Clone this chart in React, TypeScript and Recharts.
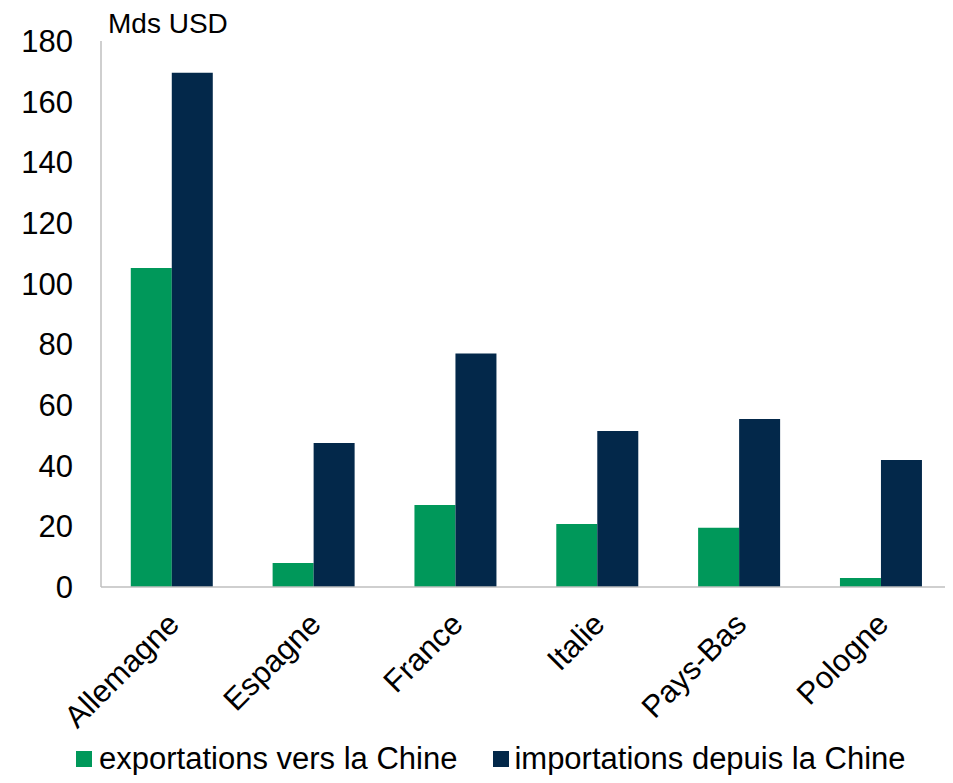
import React from "react";
import { BarChart, Bar, XAxis, YAxis, Legend } from "recharts";

const categories = ["Allemagne", "Espagne", "France", "Italie", "Pays-Bas", "Pologne"];
const exportsValues = [105.2, 7.9, 27, 20.8, 19.5, 3];
const importsValues = [169.5, 47.5, 77, 51.4, 55.4, 41.9];
const yTicks = [0, 20, 40, 60, 80, 100, 120, 140, 160, 180];
const seriesNames = ["exportations vers la Chine", "importations depuis la Chine"];
const colors = ["#00985A", "#03284A"];

const data = categories.map((c, i) => ({ name: c, exp: exportsValues[i], imp: importsValues[i] }));

const FONT = "'Liberation Sans', Arial, sans-serif";

const XTick = (props: any) => {
  const { x, y, payload } = props;
  const ax = x + 9;
  const ay = y + 31;
  return (
    <text
      x={ax}
      y={ay}
      transform={`rotate(-45, ${ax}, ${ay})`}
      textAnchor="end"
      fontSize={31}
      fontFamily={FONT}
      fill="#000"
    >
      {payload.value}
    </text>
  );
};

const LegendContent = () => (
  <div
    style={{
      display: "flex",
      alignItems: "center",
      height: 40,
      fontFamily: FONT,
      fontSize: 31,
      lineHeight: "34px",
      color: "#000",
      paddingLeft: 76,
      boxSizing: "border-box",
      whiteSpace: "nowrap",
    }}
  >
    {seriesNames.map((n, i) => (
      <div key={n} style={{ display: "flex", alignItems: "center", marginRight: i === 0 ? 36 : 0 }}>
        <span style={{ display: "inline-block", width: 16, height: 16, background: colors[i], marginRight: i === 0 ? 7 : 5 }} />
        <span>{n}</span>
      </div>
    ))}
  </div>
);

export default function App() {
  return (
    <div style={{ margin: -8, width: 953, height: 783, background: "#fff", position: "relative" }}>
      <div
        style={{
          position: "absolute",
          left: 108,
          top: 8,
          fontFamily: FONT,
          fontSize: 28,
          lineHeight: "normal",
          color: "#000",
          zIndex: 2,
          whiteSpace: "nowrap",
        }}
      >
        Mds USD
      </div>
      <BarChart
        width={953}
        height={783}
        data={data}
        margin={{ top: 41, right: 1, bottom: 0, left: 0 }}
        barCategoryGap="21%"
        barGap={0}
      >
        <XAxis
          dataKey="name"
          tick={<XTick />}
          tickLine={false}
          axisLine={{ stroke: "#BFBFBF", strokeWidth: 1.5 }}
          height={156}
          interval={0}
        />
        <XAxis
          xAxisId="top"
          dataKey="name"
          orientation="top"
          tick={false}
          tickLine={false}
          axisLine={{ stroke: "#D0D0D0" }}
          height={0}
        />
        <YAxis
          domain={[0, 180]}
          ticks={yTicks}
          tickLine={false}
          axisLine={{ stroke: "#BFBFBF", strokeWidth: 1.5 }}
          tick={{ fontSize: 31, fontFamily: FONT, fill: "#000" }}
          tickMargin={22}
          width={101}
          interval={0}
        />
        <YAxis
          yAxisId="right"
          orientation="right"
          domain={[0, 180]}
          tick={false}
          tickLine={false}
          axisLine={{ stroke: "#D0D0D0" }}
          width={0}
        />
        <Legend
          verticalAlign="bottom"
          content={<LegendContent />}
          wrapperStyle={{ left: 0, bottom: 4, width: 953, height: 40 }}
        />
        <Bar dataKey="exp" name={seriesNames[0]} fill={colors[0]} isAnimationActive={false} />
        <Bar dataKey="imp" name={seriesNames[1]} fill={colors[1]} isAnimationActive={false} />
      </BarChart>
    </div>
  );
}
